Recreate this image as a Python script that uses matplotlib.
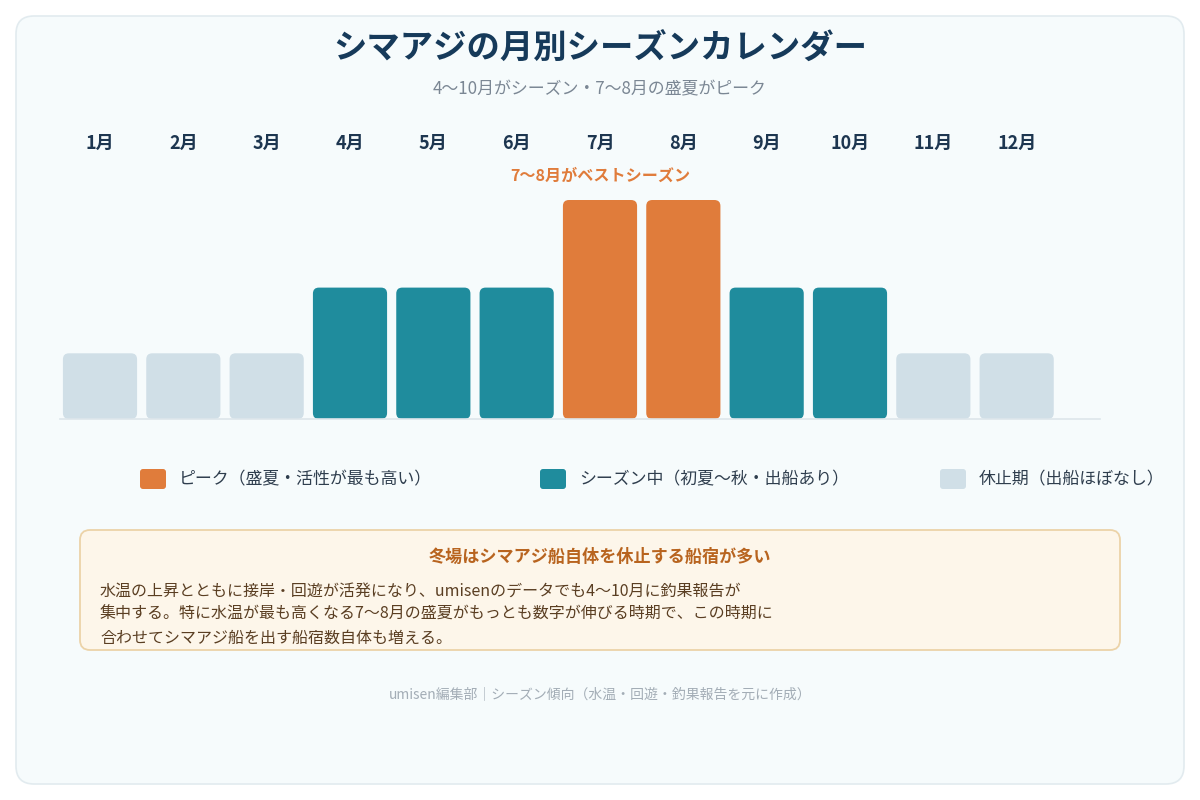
import matplotlib
matplotlib.use("Agg")
import matplotlib.pyplot as plt
from matplotlib.patches import FancyBboxPatch

plt.rcParams['font.family'] = ['Noto Sans CJK JP', 'DejaVu Sans']

# data
months = ["1月", "2月", "3月", "4月", "5月", "6月",
          "7月", "8月", "9月", "10月", "11月", "12月"]
levels = [30, 30, 30, 60, 60, 60, 100, 100, 60, 60, 30, 30]
status = ["off", "off", "off", "season", "season", "season",
          "peak", "peak", "season", "season", "off", "off"]

colors = {"peak": "#e07c3b", "season": "#1f8c9d", "off": "#d0dfe7"}
legend_labels = {"peak": "ピーク（盛夏・活性が最も高い）",
                 "season": "シーズン中（初夏〜秋・出船あり）",
                 "off": "休止期（出船ほぼなし）"}

title = "シマアジの月別シーズンカレンダー"
subtitle = "4〜10月がシーズン・7〜8月の盛夏がピーク"
best_note = "7〜8月がベストシーズン"
note_title = "冬場はシマアジ船自体を休止する船宿が多い"
note_lines = ["水温の上昇とともに接岸・回遊が活発になり、umisenのデータでも4〜10月に釣果報告が",
              "集中する。特に水温が最も高くなる7〜8月の盛夏がもっとも数字が伸びる時期で、この時期に",
              "合わせてシマアジ船を出す船宿数自体も増える。"]
footer = "umisen編集部｜シーズン傾向（水温・回遊・釣果報告を元に作成）"

W, H = 1200, 800
fig = plt.figure(figsize=(12, 8), dpi=100)
fig.patch.set_facecolor("white")
inch = fig.dpi_scale_trans


def px(x, y):
    # pixel coords from top-left -> inches from bottom-left
    return x / 100.0, (H - y) / 100.0


def rbox(x0, y0, x1, y1, r, z=1, **kw):
    bx, by = px(x0, y1)
    p = FancyBboxPatch((bx, by), (x1 - x0) / 100.0, (y1 - y0) / 100.0,
                       boxstyle=f"round,pad=0,rounding_size={r / 100.0}",
                       transform=inch, zorder=z, **kw)
    fig.patches.append(p)
    return p


# card background
rbox(16, 16, 1184, 784, 18, z=-5, facecolor="#f6fbfc", edgecolor="#e2ebef", linewidth=1.2)

# titles
fig.text(*px(600, 48), title, transform=inch, ha="center", va="center",
         fontsize=24, fontweight="bold", color="#163a5a")
fig.text(*px(600, 89), subtitle, transform=inch, ha="center", va="center",
         fontsize=12.2, color="#7b8794")

# bar axes
ax = fig.add_axes([60 / W, (H - 419) / H, 1040 / W, 219 / H])
ax.set_zorder(3)
ax.set_facecolor("none")
x = list(range(len(months)))
bars = ax.bar(x, levels, width=0.89, color=[colors[s] for s in status])
ax.set_xlim(-0.48, 12.0)
ax.set_ylim(0, 100)

# swap plain bars for rounded ones
xpp = 1040 / 12.48
ypp = 219 / 100.0
r_data = 6 / xpp
aspect = (6 / ypp) / r_data
for b in bars:
    rp = FancyBboxPatch((b.get_x(), 0), b.get_width(), b.get_height(),
                        boxstyle=f"round,pad=0,rounding_size={r_data}",
                        mutation_aspect=aspect,
                        facecolor=b.get_facecolor(), edgecolor="none")
    ax.add_patch(rp)
    b.set_visible(False)

for s in ["top", "right", "left"]:
    ax.spines[s].set_visible(False)
ax.spines["bottom"].set_color("#dde6eb")
ax.spines["bottom"].set_linewidth(1.2)
ax.set_xticks([])
ax.set_yticks([])

tr = ax.get_xaxis_transform()
for i, m in enumerate(months):
    ax.text(i, (419 - 143) / 219, m, transform=tr, ha="center", va="center",
            fontsize=13, fontweight="bold", color="#1d3650", clip_on=False)
ax.text(months.index("7月"), (419 - 176) / 219, best_note, transform=tr,
        ha="center", va="center", fontsize=11.6, fontweight="bold",
        color="#e07c3b", clip_on=False)

# legend
for key, lx in zip(["peak", "season", "off"], [140, 540, 940]):
    rbox(lx, 469, lx + 26, 489, 3, facecolor=colors[key], edgecolor="none")
    fig.text(*px(lx + 39, 479), legend_labels[key], transform=inch,
             ha="left", va="center", fontsize=12.2, color="#2f3e4e")

# note box
rbox(80, 530, 1120, 650, 10, facecolor="#fdf6ea", edgecolor="#ecd3a8", linewidth=1.3)
fig.text(*px(600, 557), note_title, transform=inch, ha="center", va="center",
         fontsize=12.3, fontweight="bold", color="#b8641f")
for k, line in enumerate(note_lines):
    fig.text(*px(100, 591 + k * 23.5), line, transform=inch, ha="left", va="center",
             fontsize=11.5, color="#5a3e22")

fig.text(*px(600, 694), footer, transform=inch, ha="center", va="center",
         fontsize=10, color="#a3adb6")

fig.savefig("out.png", dpi=100, facecolor="white")
